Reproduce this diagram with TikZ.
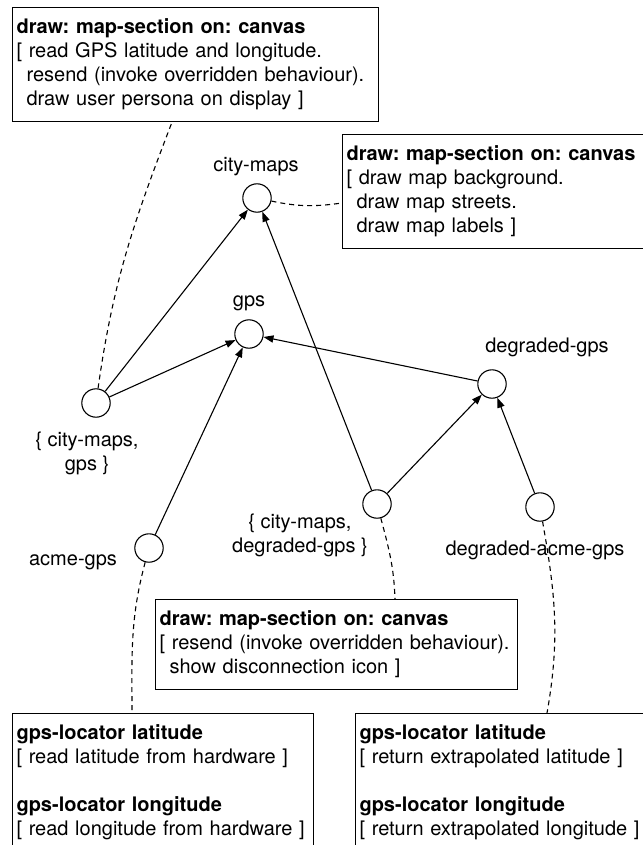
\documentclass[tikz,border=0pt]{standalone}
\usepackage{fontspec}
\setmainfont{TeX Gyre Heros}
\usepackage{tikz}
\usetikzlibrary{arrows.meta}
\tikzstyle{state} = [draw, circle, minimum size=14.2pt, inner sep=0pt]
\tikzstyle{tag} = [inner sep=0pt, align=center]
\tikzstyle{method} = [draw, anchor=north west, align=left, inner xsep=2pt, inner ysep=5.7pt]
\tikzstyle{note} = [draw, dash pattern=on 2.5pt off 2pt]
\tikzstyle{inherit} = [draw, ->]
\newcommand{\sel}[1]{\textbf{#1}}
\newcommand{\ind}{\hspace*{0.5em}}
\frenchspacing
\hyphenpenalty=10000

\begin{document}
\begin{tikzpicture}[x=0.5pt, y=-0.5pt, >={Triangle[length=5pt,width=3.6pt]}, line width=0.55pt, font=\fontsize{10}{12}\selectfont]
    \useasboundingbox (0,0) rectangle (642,845);

    % We start by placing the objects
    \node [state] (cm) at (257,198) {};
    \node [state] (gps) at (249,334) {};
    \node [state] (dg) at (492,384) {};
    \node [state] (cmg) at (96,403) {};
    \node [state] (cmdg) at (377,504) {};
    \node [state] (dag) at (540,507) {};
    \node [state] (acme) at (149,548) {};

    % Then their names
    \node [tag] (cm-name) at (256,167) {city-maps};
    \node [tag] (gps-name) at (249,303) {gps};
    \node [tag] (dg-name) at (547,347) {degraded-gps};
    \node [tag] (cmg-name) at (87,453) {\{ city-maps,\\ gps \}};
    \node [tag] (cmdg-name) at (300,535) {\{ city-maps,\\ degraded-gps \}};
    \node [tag] (dag-name) at (535,550) {degraded-acme-gps};
    \node [tag] (acme-name) at (73,562) {acme-gps};

    % The method boxes
    \node [method, text width=179pt, minimum height=55.5pt] (A) at (12,7) {\sel{draw: map-section on: canvas}\\
        {[} read GPS latitude and longitude.\\
        \ind resend (invoke overridden behaviour).\\
        \ind draw user persona on display ]};
    \node [method, text width=176pt, minimum height=53.5pt] (B) at (342,134) {\sel{draw: map-section on: canvas}\\
        {[} draw map background.\\
        \ind draw map streets.\\
        \ind draw map labels ]};
    \node [method, text width=177pt, minimum height=44.5pt] (C) at (155,599) {\sel{draw: map-section on: canvas}\\
        {[} resend (invoke overridden behaviour).\\
        \ind show disconnection icon ]};
    \node [method, text width=146.5pt] (D) at (12,713) {\sel{gps-locator latitude}\\
        {[} read latitude from hardware ]\\[12pt]
        \sel{gps-locator longitude}\\
        {[} read longitude from hardware ]\\ \mbox{}};
    \node [method, text width=170pt] (E) at (355,713) {\sel{gps-locator latitude}\\
        {[} return extrapolated latitude ]\\[12pt]
        \sel{gps-locator longitude}\\
        {[} return extrapolated longitude ]\\ \mbox{}};

    % Inheritance arrows
    \draw [inherit] (cmg) -- (cm);
    \draw [inherit] (cmg) -- (gps);
    \draw [inherit] (acme) -- (gps);
    \draw [inherit] (dg) -- (gps);
    \draw [inherit] (cmdg) -- (cm);
    \draw [inherit] (cmdg) -- (dg);
    \draw [inherit] (dag) -- (dg);

    % Dashed lines to the methods
    \draw [note] (cmg) to[out=82,in=249] ([xshift=80pt]A.south west);
    \draw [note] (cm) to[out=-12,in=188] ([yshift=-34.5pt]B.north west);
    \draw [note] (cmdg) to[out=-75,in=92] ([xshift=120pt]C.north west);
    \draw [note] (acme) to[out=-105,in=90] ([xshift=60pt]D.north west);
    \draw [note] (dag) to[out=-80,in=80] ([xshift=96pt]E.north west);
\end{tikzpicture}
\end{document}
